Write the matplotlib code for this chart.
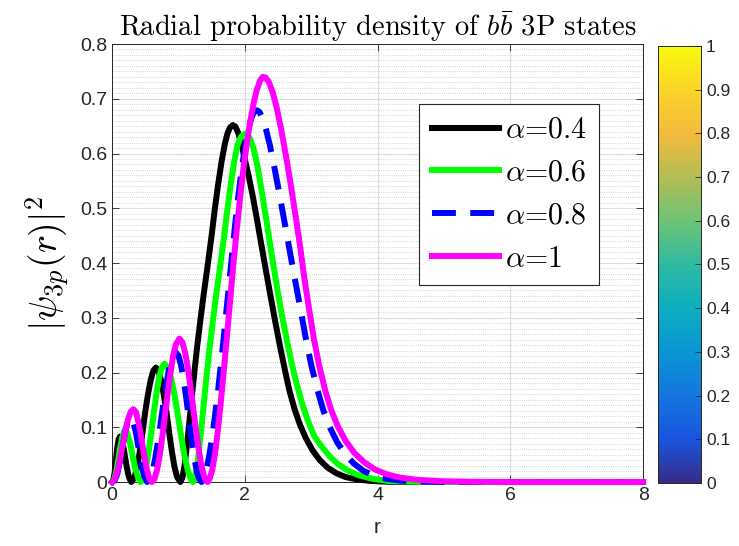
import numpy as np
import matplotlib
matplotlib.use('Agg')
import matplotlib.pyplot as plt
from matplotlib.colors import LinearSegmentedColormap, Normalize
from matplotlib.cm import ScalarMappable
from matplotlib.ticker import MultipleLocator

plt.rcParams['font.family'] = ['Liberation Sans', 'DejaVu Sans']
plt.rcParams['mathtext.fontset'] = 'cm'

# values
r_04 = [0, 0.02, 0.04, 0.06, 0.08, 0.10, 0.12, 0.14, 0.16, 0.18, 0.20, 0.22, 0.24, 0.26, 0.29,
        0.34, 0.38, 0.42, 0.46, 0.50, 0.54, 0.58, 0.62, 0.66, 0.70, 0.74, 0.78, 0.82, 0.86,
        0.90, 0.94, 0.98, 1.03,
        1.06, 1.09, 1.12, 1.15, 1.18, 1.21, 1.24, 1.28, 1.33, 1.38, 1.44, 1.50, 1.55, 1.60,
        1.65, 1.70, 1.74, 1.78, 1.82, 1.86, 1.90, 1.95, 2.00, 2.06, 2.12, 2.18, 2.25, 2.32,
        2.39, 2.46, 2.53, 2.60, 2.67, 2.75, 2.83, 2.92, 3.02, 3.13, 3.25, 3.38, 3.52, 3.68,
        3.88, 4.15, 4.50, 8.00]
p_04 = [0, 0.004, 0.018, 0.042, 0.064, 0.078, 0.083, 0.080, 0.071, 0.058, 0.043, 0.029, 0.016, 0.007, 0,
        0.009, 0.028, 0.057, 0.091, 0.128, 0.159, 0.185, 0.203, 0.209, 0.203, 0.185, 0.159, 0.128, 0.091,
        0.057, 0.028, 0.009, 0,
        0.008, 0.028, 0.058, 0.092, 0.128, 0.165, 0.200, 0.245, 0.295, 0.342, 0.395, 0.450, 0.500, 0.545,
        0.585, 0.618, 0.637, 0.648, 0.652, 0.649, 0.638, 0.617, 0.590, 0.558, 0.522, 0.482, 0.433, 0.385,
        0.338, 0.292, 0.248, 0.207, 0.168, 0.133, 0.105, 0.080, 0.058, 0.040, 0.026, 0.016, 0.009, 0.005,
        0.002, 0.0005, 0, 0]

r_06 = [0, 0.03, 0.06, 0.09, 0.12, 0.15, 0.19, 0.23, 0.27, 0.31, 0.35, 0.39, 0.43,
        0.47, 0.51, 0.55, 0.59, 0.63, 0.67, 0.71, 0.75, 0.79, 0.84, 0.89, 0.94, 0.99, 1.04,
        1.09, 1.14, 1.19, 1.22,
        1.25, 1.28, 1.31, 1.34, 1.37, 1.40, 1.43, 1.47, 1.52, 1.57, 1.63, 1.69, 1.74, 1.79,
        1.84, 1.89, 1.94, 1.96, 2.00, 2.04, 2.08, 2.13, 2.19, 2.25, 2.31, 2.37, 2.43, 2.50,
        2.57, 2.64, 2.71, 2.78, 2.86, 2.95, 3.05, 3.15, 3.27, 3.40, 3.55, 3.72, 3.92, 4.15,
        4.50, 5.00, 8.00]
p_06 = [0, 0.004, 0.017, 0.038, 0.060, 0.080, 0.095, 0.089, 0.072, 0.048, 0.025, 0.008, 0,
        0.007, 0.025, 0.054, 0.089, 0.127, 0.162, 0.191, 0.209, 0.216, 0.209, 0.190, 0.160, 0.123, 0.085,
        0.049, 0.022, 0.004, 0,
        0.008, 0.028, 0.058, 0.092, 0.128, 0.165, 0.200, 0.245, 0.295, 0.342, 0.395, 0.450, 0.500, 0.545,
        0.585, 0.615, 0.630, 0.633, 0.636, 0.634, 0.627, 0.610, 0.578, 0.535, 0.490, 0.443, 0.397, 0.345,
        0.298, 0.255, 0.215, 0.180, 0.145, 0.112, 0.083, 0.066, 0.048, 0.033, 0.021, 0.012, 0.006, 0.002,
        0.0005, 0, 0]

r_08 = [0, 0.04, 0.08, 0.12, 0.16, 0.20, 0.24, 0.28, 0.32, 0.36, 0.40, 0.44, 0.48, 0.53,
        0.57, 0.61, 0.65, 0.69, 0.73, 0.77, 0.81, 0.85, 0.89, 0.925, 0.96, 1.00, 1.04, 1.08,
        1.12, 1.16, 1.20, 1.24, 1.28, 1.315, 1.35,
        1.38, 1.42, 1.46, 1.50, 1.55, 1.60, 1.65, 1.70, 1.75, 1.80, 1.85, 1.90, 1.95, 2.00,
        2.05, 2.10, 2.14, 2.18, 2.22, 2.27, 2.32, 2.38, 2.45, 2.52, 2.60, 2.68, 2.76, 2.84,
        2.92, 3.00, 3.09, 3.18, 3.28, 3.39, 3.51, 3.64, 3.78, 3.94, 4.12, 4.35, 4.65, 5.00, 8.00]
p_08 = [0, 0.003, 0.015, 0.038, 0.066, 0.093, 0.112, 0.118, 0.110, 0.090, 0.062, 0.034, 0.012, 0,
        0.005, 0.020, 0.043, 0.072, 0.105, 0.140, 0.173, 0.201, 0.222, 0.233, 0.237, 0.231, 0.213, 0.186,
        0.152, 0.113, 0.077, 0.044, 0.018, 0.005, 0,
        0.006, 0.022, 0.045, 0.075, 0.120, 0.170, 0.225, 0.285, 0.345, 0.405, 0.465, 0.520, 0.568, 0.610,
        0.642, 0.665, 0.676, 0.679, 0.676, 0.664, 0.644, 0.614, 0.572, 0.527, 0.474, 0.420, 0.367, 0.315,
        0.262, 0.214, 0.170, 0.132, 0.100, 0.073, 0.051, 0.034, 0.021, 0.012, 0.006, 0.0025, 0.0008, 0, 0]

r_10 = [0, 0.04, 0.08, 0.12, 0.16, 0.20, 0.24, 0.28, 0.32, 0.36, 0.40, 0.44, 0.48, 0.52, 0.56, 0.60,
        0.64, 0.68, 0.72, 0.76, 0.80, 0.84, 0.88, 0.92, 0.96, 1.015, 1.06, 1.10, 1.14, 1.18,
        1.22, 1.26, 1.30, 1.34, 1.38, 1.41, 1.44,
        1.47, 1.51, 1.55, 1.59, 1.63, 1.68, 1.73, 1.78, 1.83, 1.88, 1.93, 1.98, 2.03, 2.08,
        2.13, 2.18, 2.23, 2.27, 2.31, 2.36, 2.42, 2.48, 2.55, 2.62, 2.69, 2.76, 2.83, 2.90,
        2.97, 3.04, 3.12, 3.21, 3.30, 3.40, 3.52, 3.65, 3.80, 3.96, 4.14, 4.34, 4.60, 4.95,
        5.40, 5.90, 8.00]
p_10 = [0, 0.005, 0.019, 0.041, 0.067, 0.092, 0.114, 0.128, 0.133, 0.128, 0.108, 0.081, 0.052, 0.025, 0.007, 0,
        0.006, 0.023, 0.050, 0.085, 0.124, 0.163, 0.199, 0.230, 0.251, 0.262, 0.255, 0.237, 0.210, 0.176,
        0.138, 0.100, 0.064, 0.034, 0.013, 0.003, 0,
        0.006, 0.022, 0.050, 0.090, 0.135, 0.198, 0.265, 0.333, 0.400, 0.462, 0.520, 0.573, 0.618, 0.657,
        0.690, 0.716, 0.733, 0.740, 0.739, 0.731, 0.712, 0.684, 0.643, 0.596, 0.545, 0.490, 0.433, 0.370,
        0.315, 0.262, 0.213, 0.168, 0.132, 0.102, 0.075, 0.053, 0.036, 0.023, 0.014, 0.008, 0.004, 0.0015,
        0.0004, 0, 0]

labels = [r'$\alpha$=0.4', r'$\alpha$=0.6', r'$\alpha$=0.8', r'$\alpha$=1']
xticks = [0, 2, 4, 6, 8]
yticks = [0, 0.1, 0.2, 0.3, 0.4, 0.5, 0.6, 0.7, 0.8]
cb_ticks = [0, 0.1, 0.2, 0.3, 0.4, 0.5, 0.6, 0.7, 0.8, 0.9, 1]
cb_labels = ['0', '0.1', '0.2', '0.3', '0.4', '0.5', '0.6', '0.7', '0.8', '0.9', '1']

# parula-like colormap
parula = LinearSegmentedColormap.from_list('parula', [
    (0.21, 0.17, 0.53), (0.10, 0.33, 0.88), (0.08, 0.46, 0.87), (0.04, 0.59, 0.83),
    (0.05, 0.68, 0.76), (0.18, 0.73, 0.63), (0.43, 0.76, 0.46), (0.70, 0.74, 0.33),
    (0.96, 0.73, 0.24), (0.98, 0.83, 0.16), (0.98, 0.98, 0.05)])

fig = plt.figure(figsize=(7.39, 5.46), dpi=100)
ax = fig.add_axes([0.1516, 0.1172, 0.7186, 0.8022])

lw = 4.3
ax.plot(r_04, p_04, color='k', lw=lw, label=labels[0], clip_on=False, zorder=3, solid_joinstyle='round')
ax.plot(r_06, p_06, color=(0, 1, 0), lw=lw, label=labels[1], clip_on=False, zorder=3, solid_joinstyle='round')
ax.plot(r_08, p_08, color=(0, 0, 1), lw=lw, label=labels[2], clip_on=False, zorder=3,
        dashes=(4, 2.4), dash_capstyle='butt')
ax.plot(r_10, p_10, color=(1, 0, 1), lw=lw, label=labels[3], clip_on=False, zorder=3, solid_joinstyle='round')

ax.set_xlim(0, 8)
ax.set_ylim(0, 0.8)
ax.set_xticks(xticks)
ax.set_yticks(yticks)
ax.set_xticklabels([str(t) for t in xticks])
ax.set_yticklabels(['0' if t == 0 else str(t) for t in yticks])
ax.yaxis.set_minor_locator(MultipleLocator(0.01))
ax.tick_params(which='major', direction='in', top=True, right=True, length=5,
               width=0.6, labelsize=14, colors='#262626')
ax.tick_params(which='minor', length=0)
ax.grid(True, which='major', color='#dedede', lw=0.8)
ax.grid(True, which='minor', axis='y', color='#c8c8c8', lw=0.6, ls=(0, (1, 1.6)))
ax.set_axisbelow(True)
for s in ax.spines.values():
    s.set_color('#262626')
    s.set_linewidth(0.7)

ax.set_xlabel('r', fontsize=15, color='#262626', labelpad=10)
ax.set_ylabel(r'$|\psi_{3p}(r)|^2$', fontsize=27, labelpad=6)
ax.set_title(r'Radial probability density of $b\bar{b}$ 3P states',
             fontsize=20.5, family='cmr10', pad=6)

leg = ax.legend(loc='upper left', bbox_to_anchor=(0.578, 0.863), borderaxespad=0,
                prop={'family': 'cmr10', 'size': 21.5},
                handlelength=2.25, handletextpad=0.2, labelspacing=0.52, borderpad=0.42,
                fancybox=False, framealpha=1, edgecolor='#262626')
leg.get_frame().set_linewidth(0.8)

cax = fig.add_axes([0.8904, 0.1154, 0.0582, 0.8004])
sm = ScalarMappable(norm=Normalize(0, 1), cmap=parula)
cb = fig.colorbar(sm, cax=cax)
cb.set_ticks(cb_ticks)
cb.set_ticklabels(cb_labels)
cb.ax.tick_params(direction='in', length=4, width=0.6, labelsize=12.5, colors='#262626')
cb.outline.set_edgecolor('#262626')
cb.outline.set_linewidth(0.7)

fig.savefig('out.png', dpi=100)
